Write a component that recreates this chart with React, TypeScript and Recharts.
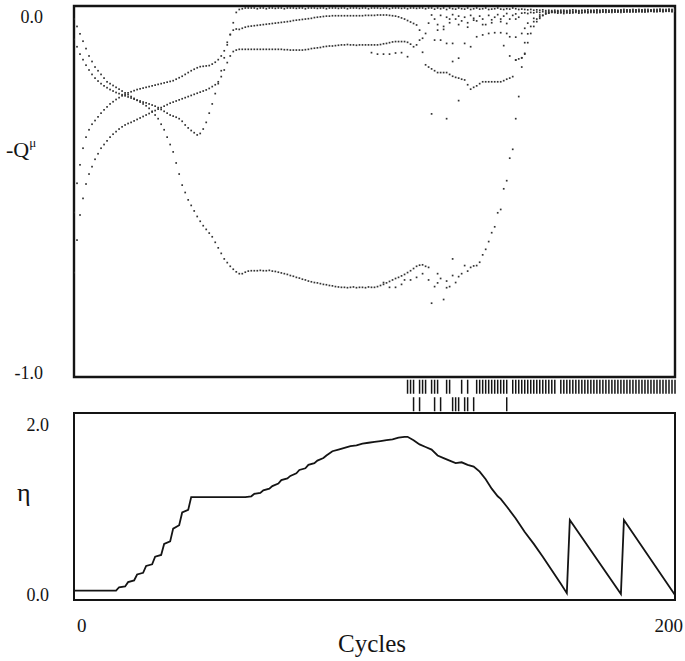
import React from "react";
import { ScatterChart, Scatter, LineChart, Line, XAxis, YAxis, ReferenceArea } from "recharts";

// -Q^mu per cycle, one value per cycle starting at cycle 0
const curveA: number[] = [
  -0.03, -0.05, -0.07, -0.09, -0.11, -0.13, -0.145, -0.16, -0.17, -0.18,
  -0.19, -0.2, -0.205, -0.21, -0.215, -0.22, -0.225, -0.23, -0.235, -0.24,
  -0.245, -0.25, -0.255, -0.26, -0.265, -0.272, -0.28, -0.29, -0.3, -0.315,
  -0.33, -0.35, -0.37, -0.39, -0.42, -0.45, -0.48, -0.5, -0.52, -0.535,
  -0.55, -0.565, -0.578, -0.59, -0.6, -0.61, -0.62, -0.635, -0.65, -0.665,
  -0.68, -0.69, -0.7, -0.708, -0.715, -0.72, -0.72, -0.716, -0.713, -0.712,
  -0.712, -0.712, -0.711, -0.712, -0.712, -0.711, -0.713, -0.714, -0.716, -0.718,
  -0.72, -0.722, -0.725, -0.727, -0.73, -0.732, -0.735, -0.737, -0.74, -0.742,
  -0.744, -0.745, -0.747, -0.749, -0.75, -0.752, -0.753, -0.755, -0.756, -0.757,
  -0.757, -0.758, -0.757, -0.756, -0.758, -0.757, -0.757, -0.758, -0.756, -0.757,
  -0.757, -0.755, -0.752, -0.749, -0.745, -0.741, -0.737, -0.733, -0.73, -0.726,
  -0.722, -0.717, -0.712, -0.706, -0.7, -0.697, -0.696, -0.7, -0.703, -0.8,
  -0.755, -0.745, -0.733, -0.79, -0.758, -0.755, -0.725, -0.744, -0.728, -0.72,
  -0.698, -0.713, -0.703, -0.699, -0.698, -0.689, -0.669, -0.654, -0.633, -0.609,
  -0.593, -0.555, -0.546, -0.49, -0.468, -0.407, -0.383, -0.3, -0.24, -0.16,
  -0.125, -0.07, -0.05, -0.037, -0.03, -0.024, -0.02, -0.015, -0.013, -0.011,
  -0.01, -0.009, -0.01, -0.009, -0.009, -0.008, -0.009, -0.008, -0.009, -0.008,
  -0.008, -0.009, -0.008, -0.008, -0.007, -0.008, -0.008, -0.007, -0.008, -0.007,
  -0.007, -0.008, -0.007, -0.007, -0.006, -0.007, -0.007, -0.006, -0.007, -0.006,
  -0.006, -0.007, -0.006, -0.006, -0.006, -0.005, -0.006, -0.006, -0.005, -0.006, -0.005,
];

const curveB: number[] = [
  -0.554, -0.475, -0.425, -0.38, -0.35, -0.33, -0.315, -0.305, -0.295, -0.285,
  -0.276, -0.268, -0.26, -0.254, -0.248, -0.243, -0.238, -0.234, -0.23, -0.227,
  -0.224, -0.221, -0.219, -0.217, -0.215, -0.213, -0.211, -0.209, -0.207, -0.205,
  -0.203, -0.201, -0.199, -0.197, -0.193, -0.189, -0.185, -0.18, -0.175, -0.17,
  -0.166, -0.162, -0.159, -0.158, -0.157, -0.156, -0.152, -0.147, -0.14, -0.13,
  -0.116, -0.093, -0.072, -0.06, -0.057, -0.058, -0.055, -0.052, -0.05, -0.049,
  -0.048, -0.047, -0.046, -0.045, -0.044, -0.043, -0.042, -0.041, -0.04, -0.039,
  -0.038, -0.037, -0.036, -0.034, -0.033, -0.032, -0.031, -0.03, -0.029, -0.028,
  -0.026, -0.025, -0.024, -0.023, -0.022, -0.022, -0.021, -0.021, -0.021, -0.021,
  -0.021, -0.021, -0.021, -0.021, -0.021, -0.021, -0.021, -0.02, -0.02, -0.02,
  -0.02, -0.019, -0.019, -0.019, -0.019, -0.02, -0.021, -0.022, -0.024, -0.027,
  -0.03, -0.034, -0.038, -0.042, -0.046, -0.06, -0.082, -0.069, -0.041, -0.019,
  -0.03, -0.045, -0.02, -0.05, -0.025, -0.04, -0.018, -0.03, -0.022, -0.035,
  -0.025, -0.04, -0.02, -0.028, -0.035, -0.022, -0.03, -0.045, -0.02, -0.032,
  -0.025, -0.018, -0.03, -0.022, -0.015, -0.03, -0.02, -0.016, -0.025, -0.014,
  -0.013, -0.015, -0.012, -0.013, -0.011, -0.012, -0.01, -0.011, -0.01, -0.01,
  -0.012, -0.011, -0.012, -0.011, -0.013, -0.011, -0.012, -0.01, -0.011, -0.012,
  -0.01, -0.011, -0.01, -0.012, -0.01, -0.011, -0.01, -0.01, -0.011, -0.009,
  -0.01, -0.011, -0.009, -0.01, -0.01, -0.009, -0.01, -0.009, -0.009, -0.01,
  -0.009, -0.009, -0.008, -0.009, -0.009, -0.008, -0.009, -0.008, -0.008, -0.009, -0.008,
];

const curveC: number[] = [
  -0.717, -0.629, -0.561, -0.516, -0.477, -0.45, -0.43, -0.41, -0.395, -0.38,
  -0.37, -0.36, -0.35, -0.342, -0.335, -0.328, -0.322, -0.317, -0.313, -0.31,
  -0.306, -0.302, -0.298, -0.294, -0.29, -0.286, -0.282, -0.278, -0.274, -0.27,
  -0.266, -0.262, -0.258, -0.255, -0.252, -0.249, -0.246, -0.243, -0.24, -0.237,
  -0.234, -0.231, -0.228, -0.225, -0.222, -0.218, -0.213, -0.208, -0.2, -0.186,
  -0.168, -0.148, -0.13, -0.118, -0.114, -0.112, -0.112, -0.112, -0.112, -0.112,
  -0.112, -0.112, -0.112, -0.112, -0.112, -0.112, -0.112, -0.112, -0.112, -0.112,
  -0.113, -0.113, -0.114, -0.114, -0.114, -0.114, -0.114, -0.113, -0.112, -0.11,
  -0.109, -0.108, -0.107, -0.105, -0.104, -0.103, -0.103, -0.102, -0.101, -0.1,
  -0.1, -0.099, -0.1, -0.1, -0.101, -0.1, -0.1, -0.1, -0.1, -0.1,
  -0.1, -0.1, -0.099, -0.097, -0.096, -0.094, -0.092, -0.091, -0.091, -0.091,
  -0.091, -0.093, -0.098, -0.105, -0.1, -0.087, -0.12, -0.154, -0.16, -0.165,
  -0.17, -0.175, -0.175, -0.175, -0.175, -0.18, -0.185, -0.188, -0.19, -0.193,
  -0.195, -0.208, -0.22, -0.215, -0.211, -0.205, -0.2, -0.2, -0.2, -0.2,
  -0.2, -0.2, -0.2, -0.197, -0.193, -0.19, -0.186, -0.141, -0.138, -0.135,
  -0.123, -0.094, -0.069, -0.05, -0.037, -0.028, -0.02, -0.016, -0.014, -0.012,
  -0.012, -0.014, -0.013, -0.015, -0.012, -0.014, -0.013, -0.012, -0.014, -0.013,
  -0.012, -0.013, -0.012, -0.011, -0.013, -0.012, -0.011, -0.012, -0.011, -0.012,
  -0.011, -0.01, -0.012, -0.011, -0.01, -0.011, -0.01, -0.011, -0.01, -0.01,
  -0.011, -0.01, -0.009, -0.01, -0.01, -0.009, -0.01, -0.009, -0.009, -0.01, -0.009,
];

const curveD: number[] = [
  -0.085, -0.105, -0.125, -0.14, -0.155, -0.168, -0.18, -0.19, -0.198, -0.205,
  -0.211, -0.216, -0.221, -0.225, -0.229, -0.232, -0.235, -0.238, -0.241, -0.244,
  -0.247, -0.25, -0.252, -0.255, -0.257, -0.26, -0.263, -0.266, -0.27, -0.275,
  -0.28, -0.285, -0.29, -0.293, -0.296, -0.3, -0.307, -0.317, -0.325, -0.332,
  -0.338, -0.344, -0.34, -0.328, -0.31, -0.285, -0.26, -0.232, -0.205, -0.17,
  -0.135, -0.1, -0.072, -0.04, -0.012, -0.004, -0.002, 0, 0, 0,
  0, -0.002, 0, 0, -0.002, 0, 0, -0.001, 0, 0,
  -0.002, 0, 0, 0, -0.001, 0, 0, -0.002, 0, 0,
  0, -0.001, 0, 0, -0.002, 0, 0, 0, -0.001, 0,
  0, -0.002, 0, 0, 0, -0.001, 0, 0, -0.002, 0,
  0, 0, -0.001, 0, 0, -0.002, 0, 0, 0, -0.001,
  0, -0.002, 0, 0, -0.001, 0, 0, -0.002, 0, 0,
  -0.003, 0, -0.002, 0, -0.004, 0, -0.002, -0.003, 0, -0.002,
  -0.003, 0, -0.004, -0.002, 0, -0.003, -0.002, 0, -0.004, -0.003,
  -0.002, 0, -0.003, -0.004, -0.002, -0.003, 0, -0.002, -0.004, -0.003,
  -0.004, -0.005, -0.004, -0.006, -0.005, -0.006, -0.005, -0.007, -0.006, -0.007,
  -0.006, -0.007, -0.006, -0.006, -0.007, -0.006, -0.005, -0.006, -0.007, -0.006,
  -0.006, -0.005, -0.006, -0.006, -0.005, -0.006, -0.005, -0.005, -0.006, -0.005,
  -0.005, -0.006, -0.005, -0.004, -0.005, -0.005, -0.004, -0.005, -0.004, -0.005,
  -0.004, -0.004, -0.005, -0.004, -0.004, -0.003, -0.004, -0.004, -0.003, -0.004, -0.003,
];

// stray points where the curves split (cycle, -Q)
const splitPoints: [number, number][] = [
  [103, -0.744], [105, -0.757], [107, -0.757], [109, -0.749], [110, -0.737], [112, -0.737],
  [114, -0.73], [116, -0.72], [118, -0.737], [121, -0.72], [124, -0.74],
  [99, -0.121], [101, -0.125], [103, -0.125], [105, -0.125], [107, -0.122], [109, -0.121], [111, -0.132],
  [120, -0.087], [122, -0.087], [124, -0.096], [126, -0.096], [126, -0.145], [128, -0.136],
  [130, -0.096], [132, -0.105], [134, -0.078], [136, -0.073], [138, -0.069], [140, -0.067],
  [142, -0.067], [144, -0.069], [145, -0.078], [147, -0.079], [149, -0.069], [150, -0.055],
  [151, -0.041], [153, -0.028], [155, -0.019],
  [143, -0.102], [145, -0.13], [147, -0.141], [149, -0.135], [150, -0.094],
  [119, -0.287], [124, -0.3], [128, -0.251], [126, -0.68],
  [121, -0.06], [123, -0.058], [125, -0.03], [128, -0.045], [131, -0.052], [133, -0.033],
  [136, -0.045], [139, -0.04], [142, -0.037], [144, -0.042], [147, -0.03],
];

// event marks between the panels
const rugUpper = [
  111, 112, 113, 115, 116, 117, 119, 120, 121, 124, 125, 129, 131,
  134, 135, 136, 137, 138, 139, 140, 141, 142, 143, 144,
  146, 147, 148, 149, 150, 151, 152, 153, 154, 155, 156, 157, 158, 159, 160,
  162, 163, 164, 165, 166, 167, 168, 169, 170, 171, 172, 173, 174, 175, 176, 177, 178, 179, 180,
  181, 182, 183, 184, 185, 186, 187, 188, 189, 190, 191, 192, 193, 194, 195, 196, 197, 198, 199, 200,
];
const rugLower = [113, 115, 120, 122, 126, 127, 128, 130, 131, 133, 144];

// eta vs cycle
const etaCycles = [
  0, 14, 15, 17, 18, 20, 21, 23, 24, 26, 27, 29, 30, 32, 33, 35, 36, 38, 39,
  57, 59, 60, 62, 63, 65, 66, 68, 69, 71, 72, 74, 75, 77, 78, 80, 81, 83, 84, 86, 88,
  90, 92, 94, 96, 98, 100, 102, 104, 106, 108, 110, 111, 113, 115, 117, 119, 121, 123,
  125, 127, 129, 131, 133, 135, 137, 139, 141, 142, 144, 147, 150, 153, 156, 159, 162,
  164, 165, 182, 183, 200,
];
const etaValues = [
  0.05, 0.05, 0.09, 0.1, 0.15, 0.17, 0.24, 0.26, 0.34, 0.36, 0.45, 0.47, 0.6, 0.63, 0.78, 0.82, 0.97, 1.0, 1.15,
  1.15, 1.16, 1.19, 1.2, 1.23, 1.25, 1.28, 1.31, 1.35, 1.37, 1.4, 1.43, 1.47, 1.49, 1.53, 1.55, 1.58, 1.61, 1.64, 1.69, 1.71,
  1.73, 1.75, 1.76, 1.78, 1.79, 1.8, 1.81, 1.82, 1.83, 1.85, 1.86, 1.86, 1.82, 1.77, 1.74, 1.71, 1.64, 1.61,
  1.58, 1.55, 1.56, 1.53, 1.51, 1.45, 1.36, 1.25, 1.16, 1.13, 1.04, 0.9, 0.74, 0.6, 0.45, 0.29, 0.13,
  0.02, 0.88, 0.01, 0.88, 0.0,
];

const W = 685;
const INK = "#141414";
const SERIF = "'Liberation Serif', 'DejaVu Serif', serif";
const Q_DOMAIN: [number, number] = [-1, 0.0054];
const ETA_DOMAIN: [number, number] = [-0.06, 2.14];

const toPts = (vals: number[]) => vals.map((q, cycle) => ({ cycle, q }));
const etaData = etaCycles.map((cycle, i) => ({ cycle, eta: etaValues[i] }));

function DotShape(props: any) {
  const { cx, cy } = props;
  if (cx == null || cy == null) return null;
  return <rect x={cx - 0.85} y={cy - 0.85} width={1.7} height={1.7} fill="#333" />;
}

function RugShape(props: any) {
  const { cx, cy } = props;
  if (cx == null || cy == null) return null;
  return <line x1={cx} x2={cx} y1={cy - 7} y2={cy + 7} stroke={INK} strokeWidth={1.5} />;
}

function QTick(props: any) {
  const { x, y, payload } = props;
  const dy = payload.value === 0 ? 9 : -4;
  return (
    <text x={x - 31} y={y + dy} dy="0.35em" textAnchor="end" fontFamily={SERIF} fontSize={18} fill={INK}>
      {payload.value.toFixed(1)}
    </text>
  );
}

function EtaTick(props: any) {
  const { x, y, payload } = props;
  return (
    <text x={x - 25} y={y} dy="0.35em" textAnchor="end" fontFamily={SERIF} fontSize={18} fill={INK}>
      {payload.value.toFixed(1)}
    </text>
  );
}

function CycleTick(props: any) {
  const { x, y, payload } = props;
  const first = payload.value === 0;
  return (
    <text x={first ? x + 3 : x + 8} y={y + 25} dy="0.35em" textAnchor={first ? "start" : "end"} fontFamily={SERIF} fontSize={19} fill={INK}>
      {payload.value}
    </text>
  );
}

export default function App() {
  return (
    <div style={{ position: "absolute", left: 0, top: 0, width: W, height: 661, background: "#fff" }}>
      <div style={{ position: "absolute", left: 0, top: 0 }}>
        <ScatterChart width={W} height={392} margin={{ top: 6, right: 10, bottom: 15, left: 0 }}>
          <XAxis type="number" dataKey="cycle" domain={[0, 200]} hide allowDataOverflow />
          <YAxis
            type="number"
            dataKey="q"
            domain={Q_DOMAIN}
            ticks={[-1, 0]}
            interval={0}
            width={74}
            tickSize={0}
            tickMargin={0}
            axisLine={false}
            tickLine={false}
            tick={QTick}
            allowDataOverflow
          />
          <ReferenceArea x1={0} x2={200} y1={Q_DOMAIN[0]} y2={Q_DOMAIN[1]} fill="none" stroke={INK} strokeWidth={2.4} ifOverflow="visible" />
          <Scatter data={toPts(curveA)} shape={DotShape} isAnimationActive={false} />
          <Scatter data={toPts(curveB)} shape={DotShape} isAnimationActive={false} />
          <Scatter data={toPts(curveC)} shape={DotShape} isAnimationActive={false} />
          <Scatter data={toPts(curveD)} shape={DotShape} isAnimationActive={false} />
          <Scatter data={splitPoints.map(([cycle, q]) => ({ cycle, q }))} shape={DotShape} isAnimationActive={false} />
        </ScatterChart>
      </div>

      <div style={{ position: "absolute", left: 0, top: 378 }}>
        <ScatterChart width={W} height={35} margin={{ top: 0, right: 10, bottom: 0, left: 74 }}>
          <XAxis type="number" dataKey="cycle" domain={[0, 200]} hide />
          <YAxis type="number" dataKey="row" domain={[-0.5, 1.5]} hide />
          <Scatter data={rugUpper.map((cycle) => ({ cycle, row: 1 }))} shape={RugShape} isAnimationActive={false} />
          <Scatter data={rugLower.map((cycle) => ({ cycle, row: 0 }))} shape={RugShape} isAnimationActive={false} />
        </ScatterChart>
      </div>

      <div style={{ position: "absolute", left: 0, top: 400 }}>
        <LineChart width={W} height={261} data={etaData} margin={{ top: 13, right: 10, bottom: 31, left: 0 }}>
          <XAxis
            type="number"
            dataKey="cycle"
            domain={[0, 200]}
            ticks={[0, 200]}
            interval={0}
            height={30}
            tickSize={0}
            tickMargin={0}
            axisLine={false}
            tickLine={false}
            tick={CycleTick}
          />
          <YAxis
            type="number"
            domain={ETA_DOMAIN}
            ticks={[0, 2]}
            interval={0}
            width={74}
            tickSize={0}
            tickMargin={0}
            axisLine={false}
            tickLine={false}
            tick={EtaTick}
            allowDataOverflow
          />
          <ReferenceArea x1={0} x2={200} y1={ETA_DOMAIN[0]} y2={ETA_DOMAIN[1]} fill="none" stroke={INK} strokeWidth={2} ifOverflow="visible" />
          <Line dataKey="eta" type="linear" stroke={INK} strokeWidth={1.8} dot={false} isAnimationActive={false} />
        </LineChart>
      </div>

      <svg width={W} height={661} style={{ position: "absolute", left: 0, top: 0, pointerEvents: "none" }}>
        <text x={6} y={157} fontFamily={SERIF} fontSize={22} fill={INK}>
          -Q<tspan fontSize={13} dy={-10}>μ</tspan>
        </text>
        <text x={17} y={501} fontFamily={SERIF} fontSize={26} fill={INK}>η</text>
        <text x={338} y={652} fontFamily={SERIF} fontSize={25} fill={INK}>Cycles</text>
      </svg>
    </div>
  );
}
